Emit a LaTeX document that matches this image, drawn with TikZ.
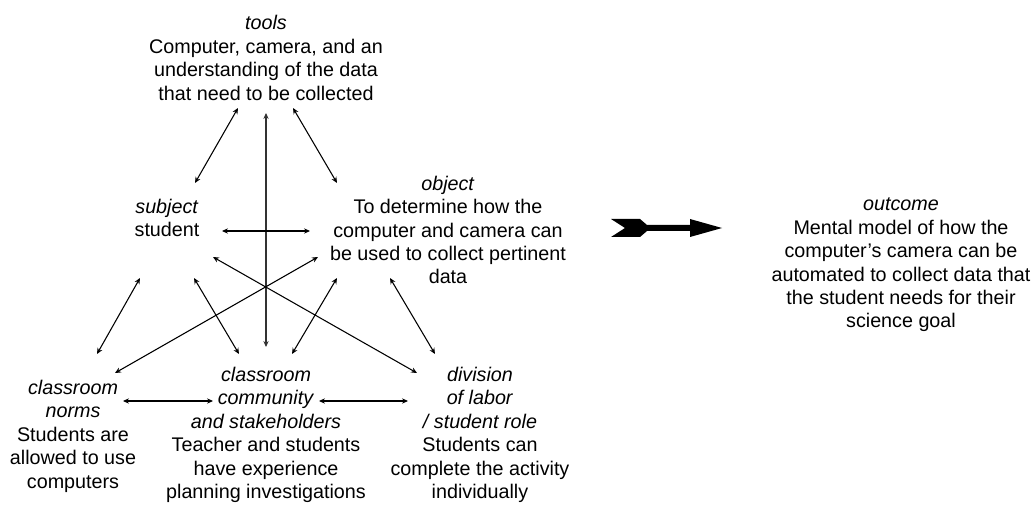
\documentclass[tikz,border=0pt]{standalone}
\usepackage{fontspec}
\setmainfont{Liberation Sans}
\usetikzlibrary{arrows.meta,calc}
\tikzset{
  actnode/.style={align=center, inner sep=0pt, font=\fontsize{14.8}{17.6}\selectfont},
  link/.style={{Stealth[length=4.5pt,width=4pt]}-{Stealth[length=4.5pt,width=4pt]}, line width=0.8pt}
}
\begin{document}
\begin{tikzpicture}[x=0.75pt,y=-0.75pt]
  \useasboundingbox (0,0) rectangle (1033,506);
  % activity system
  \node[actnode] (tools) at (266,58) {\textit{tools}\\Computer, camera, and an\\understanding of the data\\that need to be collected};
  \node[actnode] (subject) at (167,218) {\textit{subject}\\student};
  \node[actnode] (object) at (448,230) {\textit{object}\\To determine how the\\computer and camera can\\be used to collect pertinent\\data};
  \node[actnode] (norms) at (73,436) {\textit{classroom}\\\textit{norms}\\Students are\\allowed to use\\computers};
  \node[actnode] (community) at (266,435) {\textit{classroom}\\\textit{community}\\\textit{and stakeholders}\\Teacher and students\\have experience\\planning investigations};
  \node[actnode] (division) at (480,435) {\textit{division}\\\textit{of labor}\\\textit{/ student role}\\Students can\\complete the activity\\individually};
  \node[actnode] (outcome) at (901,265) {\textit{outcome}\\Mental model of how the\\computer's camera can be\\automated to collect data that\\the student needs for their\\science goal};
  % connectors
  \begin{scope}[link]
    \draw ($(tools)+(-28,50)$) -- ($(subject)+(28,-35)$);
    \draw[line width=1.1pt, black!80] ($(tools)+(0,55)$) -- ($(community)+(0,-88)$);
    \draw ($(tools)+(27,50)$) -- ($(object)+(-111,-47)$);
    \draw ($(subject)+(55,13)$) -- ($(object)+(-138,1)$);
    \draw ($(subject)+(46,39)$) -- ($(division)+(-63,-62)$);
    \draw ($(object)+(-130,27)$) -- ($(norms)+(42,-63)$);
    \draw ($(subject)+(-27,60)$) -- ($(norms)+(24,-82)$);
    \draw ($(subject)+(27,60)$) -- ($(community)+(-27,-81)$);
    \draw ($(object)+(-111,48)$) -- ($(community)+(26,-81)$);
    \draw ($(object)+(-58,48)$) -- ($(division)+(-45,-81)$);
    \draw ($(norms)+(50,-35)$) -- ($(community)+(-53,-34)$);
    \draw ($(community)+(53,-34)$) -- ($(division)+(-72,-34)$);
  \end{scope}
  % big arrow to outcome
  \coordinate (bigtail) at (611,228);
  \coordinate (bigtip) at (722,228);
  \fill (bigtip) -- ++(-32,-9) -- ++(0,6) -- ++(-43,0) -- ++(-7,-6) -- ++(-29,0)
    -- ++(14,9) -- ++(-14,9) -- ++(29,0) -- ++(7,-6) -- ++(43,0) -- ++(0,6) -- cycle;
\end{tikzpicture}
\end{document}
